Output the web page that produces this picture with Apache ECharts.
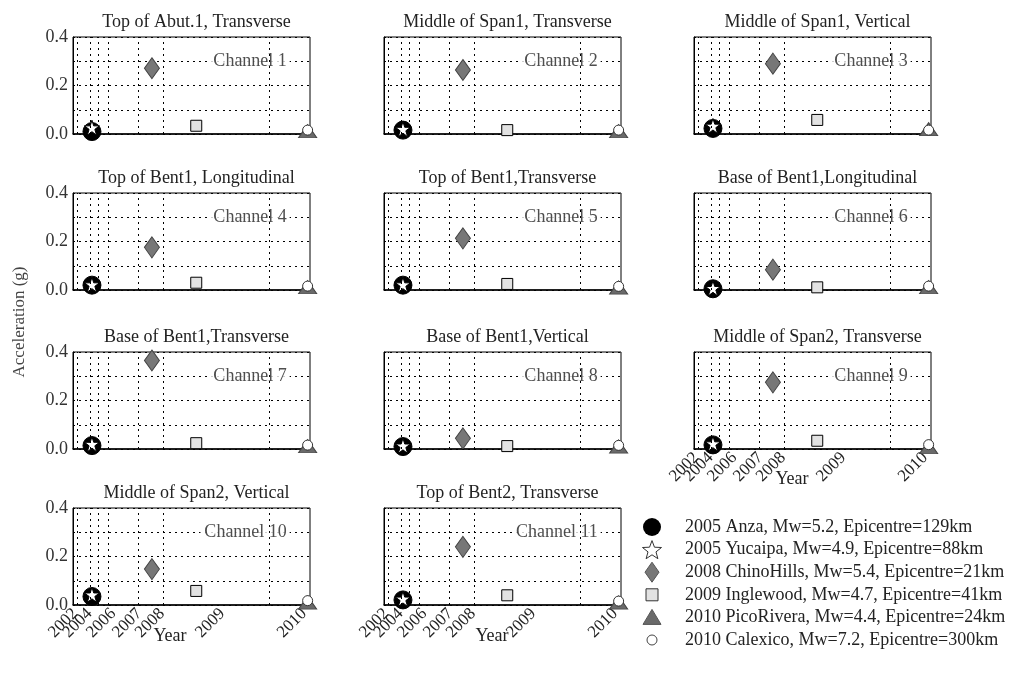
<!DOCTYPE html>
<html>
<head>
<meta charset="utf-8">
<script src="https://cdn.jsdelivr.net/npm/echarts@6/dist/echarts.min.js"></script>
<style>html,body{margin:0;padding:0;background:#fff}#c{width:1019px;height:674px}</style>
</head>
<body>
<div id="c"></div>
<script>
// ---- data ----
const titles = ['Top of Abut.1, Transverse','Middle of Span1, Transverse','Middle of Span1, Vertical',
  'Top of Bent1, Longitudinal','Top of Bent1,Transverse','Base of Bent1,Longitudinal',
  'Base of Bent1,Transverse','Base of Bent1,Vertical','Middle of Span2, Transverse',
  'Middle of Span2, Vertical','Top of Bent2, Transverse'];
const channels = ['Channel 1','Channel 2','Channel 3','Channel 4','Channel 5','Channel 6',
  'Channel 7','Channel 8','Channel 9','Channel 10','Channel 11'];
const events = ['2005 Anza, Mw=5.2, Epicentre=129km','2005 Yucaipa, Mw=4.9, Epicentre=88km',
  '2008 ChinoHills, Mw=5.4, Epicentre=21km','2009 Inglewood, Mw=4.7, Epicentre=41km',
  '2010 PicoRivera, Mw=4.4, Epicentre=24km','2010 Calexico, Mw=7.2, Epicentre=300km'];
// event positions on the (non-linear) time axis, in axis units 0..100
const eventX = [8, 8, 33.3, 52, 99, 99];
// peak accelerations (g), one value per channel 1..11
const anza       = [0.010,0.016,0.023,0.020,0.020,0.005,0.014,0.010,0.017,0.035,0.021];
const yucaipa    = [0.026,0.020,0.033,0.022,0.022,0.007,0.020,0.013,0.022,0.042,0.025];
const chinoHills = [0.271,0.264,0.290,0.176,0.213,0.084,0.365,0.044,0.275,0.148,0.240];
const inglewood  = [0.034,0.016,0.058,0.030,0.025,0.011,0.024,0.012,0.034,0.058,0.040];
const picoRivera = [0.012,0.012,0.020,0.012,0.010,0.012,0.012,0.010,0.008,0.010,0.010];
const calexico   = [0.016,0.016,0.016,0.016,0.015,0.016,0.016,0.015,0.018,0.018,0.016];
const eventValues = [anza, yucaipa, chinoHills, inglewood, picoRivera, calexico];
// x tick labels and their positions, and vertical grid line positions
const yearLabels = ['2002','2004','2006','2007','2008','2009','2010'];
const yearLabelPos = [1, 7, 17, 28, 37.6, 63, 97.5];
const yearGridPos = [1.7, 7.2, 10.5, 14.8, 27.4, 38, 82.7];

// ---- styling ----
const FONT = 'Liberation Serif';
const TXT = '#222';
const starPath = 'path://M50,2 L61,36 L97,36 L68,57 L79,92 L50,71 L21,92 L32,57 L3,36 L39,36 Z';
const eventStyles = [
  {symbol:'circle', size:18, item:{color:'#000', borderColor:'#000', borderWidth:1, opacity:1}},
  {symbol:starPath, size:15, item:{color:'#fff', borderColor:'#000', borderWidth:1, opacity:1}},
  {symbol:'diamond', size:[15,21], item:{color:'#777', borderColor:'#444', borderWidth:1, opacity:1}},
  {symbol:'rect', size:11, item:{color:'#e2e2e2', borderColor:'#000', borderWidth:1, opacity:1}},
  {symbol:'triangle', size:[18,13], item:{color:'#6a6a6a', borderColor:'#444', borderWidth:1, opacity:1}},
  {symbol:'circle', size:10, item:{color:'#fff', borderColor:'#333', borderWidth:1, opacity:1}}
];
const colLeft = [73, 384, 694];
const rowTop = [37, 193, 352, 508];
const W = 237, H = 97;
const showX = [8, 9, 10];

const yearFormatter = v => { const k = yearLabelPos.findIndex(p => Math.abs(p - v) < 1e-6); return k >= 0 ? yearLabels[k] : ''; };
// two interleaved label sets so neighbouring (overlapping) labels are all kept
const labelSetA = yearLabelPos.filter((p, k) => k % 2 === 0);
const labelSetB = yearLabelPos.filter((p, k) => k % 2 === 1);
function xLabel(values) {
  return {customValues: values, rotate: 45, margin: 6, fontSize: 17, fontFamily: FONT, color: TXT,
    hideOverlap: false, showMinLabel: true, showMaxLabel: true, formatter: yearFormatter};
}

const grid = [], xAxis = [], yAxis = [], series = [], title = [], extraX = [];
titles.forEach((t, i) => {
  const r = Math.floor(i / 3), c = i % 3;
  grid.push({left: colLeft[c], top: rowTop[r], width: W, height: H, show: true,
    borderColor: '#000', borderWidth: 1, backgroundColor: 'transparent'});
  title.push({text: t, left: colLeft[c] + W / 2, top: rowTop[r] - 29, textAlign: 'center',
    textStyle: {fontFamily: FONT, fontSize: 18, fontWeight: 'normal', color: TXT}});
  xAxis.push({gridIndex: i, type: 'value', min: 0, max: 100, position: 'bottom',
    axisLine: {show: true, onZero: false, lineStyle: {color: '#000', width: 1.5}},
    axisTick: {show: false}, splitLine: {show: false},
    axisLabel: showX.includes(i) ? xLabel(labelSetA) : {show: false}});
  if (showX.includes(i)) {
    extraX.push({gridIndex: i, type: 'value', min: 0, max: 100, position: 'bottom', offset: 0,
      axisLine: {show: false}, axisTick: {show: false}, splitLine: {show: false},
      axisLabel: xLabel(labelSetB)});
  }
  yAxis.push({gridIndex: i, type: 'value', min: 0, max: 0.4, interval: 0.1,
    axisLine: {show: true, lineStyle: {color: '#000', width: 1}},
    axisTick: {show: false},
    splitLine: {show: true, lineStyle: {color: '#000', width: 1, type: [2, 4]}},
    axisLabel: c === 0 ? {fontSize: 18, fontFamily: FONT, color: '#333', margin: 5,
      formatter: v => (Math.round(v * 10) % 2 === 0 ? v.toFixed(1) : '')} : {show: false}});
  // vertical dotted grid lines
  series.push({type: 'scatter', xAxisIndex: i, yAxisIndex: i, data: [[-50, -1]], symbolSize: 0, z: 1,
    silent: true,
    markLine: {silent: true, symbol: 'none', label: {show: false},
      lineStyle: {color: '#000', width: 1, type: [2, 4]},
      data: yearGridPos.map(p => ({xAxis: p}))}});
  // channel label
  series.push({type: 'scatter', xAxisIndex: i, yAxisIndex: i, data: [[91.5, 0.3]], symbolSize: 0, z: 2,
    silent: true,
    label: {show: true, position: 'left', distance: 0, formatter: channels[i], fontSize: 18,
      fontFamily: FONT, color: TXT, backgroundColor: '#fff', padding: [0, 3, 0, 4]}});
  // events
  events.forEach((name, k) => {
    const st = eventStyles[k];
    series.push({name: name, type: 'scatter', xAxisIndex: i, yAxisIndex: i, clip: false, z: 3 + k,
      symbol: st.symbol, symbolSize: st.size, itemStyle: st.item,
      data: [[eventX[k], eventValues[k][i]]]});
  });
});
extraX.forEach(a => xAxis.push(a));

// legend (manual, in the 12th cell)
const legendGraphics = [];
const ly0 = 527, ldy = 22.6, lx = 652;
function starPoints(cx, cy, R, r) {
  const pts = [];
  for (let j = 0; j < 10; j++) {
    const a = -Math.PI / 2 + j * Math.PI / 5, rad = j % 2 === 0 ? R : r;
    pts.push([cx + rad * Math.cos(a), cy + rad * Math.sin(a)]);
  }
  return pts;
}
events.forEach((name, k) => {
  const y = ly0 + k * ldy;
  let shape;
  if (k === 0) shape = {type: 'circle', shape: {cx: lx, cy: y, r: 9}, style: {fill: '#000'}};
  else if (k === 1) shape = {type: 'polygon', shape: {points: starPoints(lx, y + 1, 10, 4.2)}, style: {fill: '#fff', stroke: '#333', lineWidth: 1}};
  else if (k === 2) shape = {type: 'polygon', shape: {points: [[lx, y - 10], [lx + 7, y], [lx, y + 10], [lx - 7, y]]}, style: {fill: '#777', stroke: '#555', lineWidth: 1}};
  else if (k === 3) shape = {type: 'rect', shape: {x: lx - 6, y: y - 6, width: 12, height: 12}, style: {fill: '#e2e2e2', stroke: '#333', lineWidth: 1}};
  else if (k === 4) shape = {type: 'polygon', shape: {points: [[lx, y - 8], [lx + 9, y + 7], [lx - 9, y + 7]]}, style: {fill: '#6a6a6a', stroke: '#555', lineWidth: 1}};
  else shape = {type: 'circle', shape: {cx: lx, cy: y, r: 5}, style: {fill: '#fff', stroke: '#444', lineWidth: 1}};
  legendGraphics.push(shape);
  legendGraphics.push({type: 'text', x: 685, y: y, style: {text: name, fontFamily: FONT, fontSize: 18,
    fill: TXT, verticalAlign: 'middle', align: 'left'}});
});

const graphic = [
  {type: 'text', x: 20, y: 322, rotation: Math.PI / 2,
    style: {text: 'Acceleration (g)', fontFamily: FONT, fontSize: 17, fill: '#444', align: 'center', verticalAlign: 'middle'}},
  {type: 'text', x: 170, y: 636, style: {text: 'Year', fontFamily: FONT, fontSize: 18, fill: TXT, align: 'center', verticalAlign: 'middle'}},
  {type: 'text', x: 492, y: 636, style: {text: 'Year', fontFamily: FONT, fontSize: 18, fill: TXT, align: 'center', verticalAlign: 'middle'}},
  {type: 'text', x: 792, y: 479, style: {text: 'Year', fontFamily: FONT, fontSize: 18, fill: TXT, align: 'center', verticalAlign: 'middle'}}
].concat(legendGraphics);

const chart = echarts.init(document.getElementById('c'), null, {renderer: 'canvas'});
chart.setOption({animation: false, backgroundColor: '#fff', title, grid, xAxis, yAxis, series, graphic});
</script>
</body>
</html>
